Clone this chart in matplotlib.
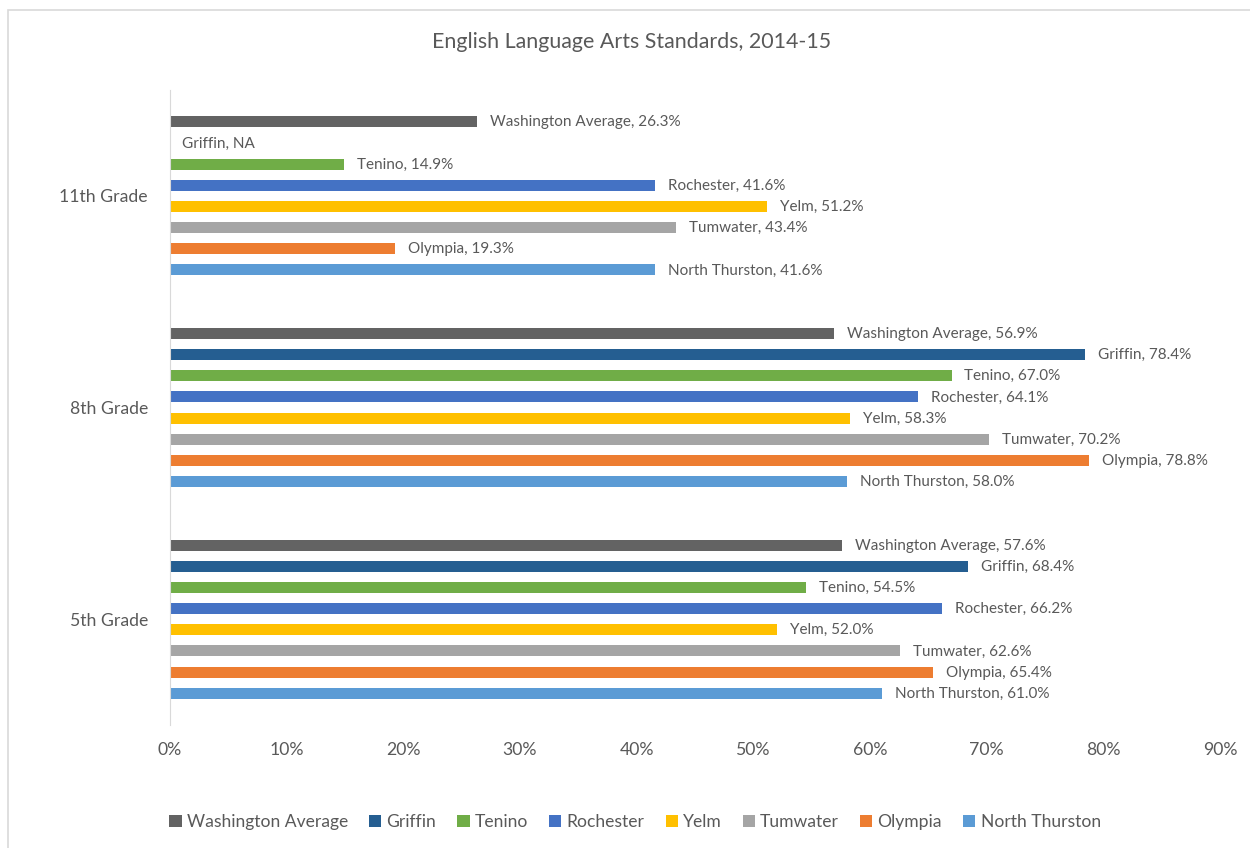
import numpy as np
import matplotlib
matplotlib.use("Agg")
from matplotlib import pyplot as plt
from matplotlib.patches import Rectangle

plt.rcParams['font.family'] = ['Lato', 'DejaVu Sans']

grades = ['5th Grade', '8th Grade', '11th Grade']
districts = ['Washington Average', 'Griffin', 'Tenino', 'Rochester', 'Yelm',
             'Tumwater', 'Olympia', 'North Thurston']
colors = ['#636363', '#255e91', '#70ad47', '#4472c4', '#ffc000',
          '#a5a5a5', '#ed7d31', '#5b9bd5']

# values per district, order: 5th, 8th, 11th  (None = NA)
washington_avg = [57.6, 56.9, 26.3]
griffin = [68.4, 78.4, None]
tenino = [54.5, 67.0, 14.9]
rochester = [66.2, 64.1, 41.6]
yelm = [52.0, 58.3, 51.2]
tumwater = [62.6, 70.2, 43.4]
olympia = [65.4, 78.8, 19.3]
north_thurston = [61.0, 58.0, 41.6]
series = [washington_avg, griffin, tenino, rochester, yelm, tumwater, olympia, north_thurston]

txt = '#595959'
fig = plt.figure(figsize=(12.5, 8.48), dpi=100)
fig.patches.append(Rectangle((8 / 1250, -0.1), 1.2, 1 - 10 / 848 + 0.1, transform=fig.transFigure,
                             fill=False, edgecolor='#d9d9d9', linewidth=1.2))
ax = fig.add_axes([170 / 1250, 1 - 725 / 848, 1050 / 1250, 635 / 848])

y = np.arange(len(grades))
for i, (name, vals, c) in enumerate(zip(districts, series, colors)):
    off = 0.35 - 0.1 * i
    for j, v in enumerate(vals):
        if v is None:
            ax.text(1.0, y[j] + off - 0.003, name + ', NA', va='center', ha='left', fontsize=11, color=txt)
            continue
        ax.barh(y[j] + off, v, height=0.052, color=c, label=name if j == 0 else None)
        ax.text(v + 1.1, y[j] + off - 0.003, '%s, %.1f%%' % (name, v), va='center', ha='left',
                fontsize=11, color=txt)

ax.set_xlim(0, 90)
ax.set_ylim(-0.5, 2.5)
ax.set_xticks(range(0, 91, 10))
ax.set_xticklabels(['%d%%' % t for t in range(0, 91, 10)])
ax.set_yticks(y)
ax.set_yticklabels(grades)
ax.tick_params(length=0, labelsize=12.7, colors=txt, pad=12)
ax.tick_params(axis='y', pad=16)
for s in ['top', 'right', 'bottom']:
    ax.spines[s].set_visible(False)
ax.spines['left'].set_color('#d9d9d9')

fig.text(0.505, 1 - 42 / 848, 'English Language Arts Standards, 2014-15', ha='center', va='center',
         fontsize=15.4, color=txt)

h, l = ax.get_legend_handles_labels()
fig.legend(h, l, loc='center', bbox_to_anchor=(0.508, 1 - 822 / 848), ncol=8, frameon=False,
           fontsize=12.6, handlelength=0.7, handleheight=0.7, handletextpad=0.3, columnspacing=1.2,
           labelcolor=txt)

fig.savefig('out.png', dpi=100)
